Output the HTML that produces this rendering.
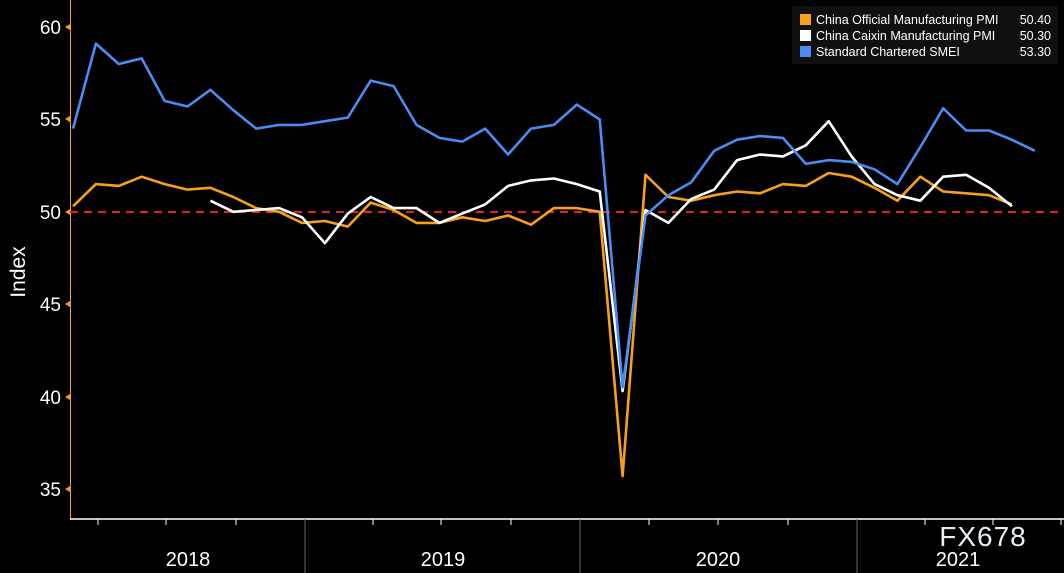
<!DOCTYPE html>
<html><head><meta charset="utf-8"><style>
html,body{margin:0;padding:0;background:#000;}
svg{display:block;font-family:"Liberation Sans","DejaVu Sans",sans-serif;}
</style></head><body>
<svg width="1064" height="573" viewBox="0 0 1064 573" xmlns="http://www.w3.org/2000/svg">
<rect width="1064" height="573" fill="#000"/>
<line x1="70.5" y1="0" x2="70.5" y2="519" stroke="#f7a11a" stroke-width="1"/>
<line x1="70" y1="519" x2="1064" y2="519" stroke="#fff" stroke-width="1.5"/>
<g stroke="#fff" stroke-width="1">
<line x1="98" y1="519" x2="98" y2="525"/><line x1="166" y1="519" x2="166" y2="525"/><line x1="236" y1="519" x2="236" y2="525"/>
<line x1="373" y1="519" x2="373" y2="525"/><line x1="441" y1="519" x2="441" y2="525"/><line x1="511" y1="519" x2="511" y2="525"/>
<line x1="649" y1="519" x2="649" y2="525"/><line x1="718" y1="519" x2="718" y2="525"/><line x1="788" y1="519" x2="788" y2="525"/>
<line x1="925" y1="519" x2="925" y2="525"/><line x1="993" y1="519" x2="993" y2="525"/><line x1="1061" y1="519" x2="1061" y2="525"/>
</g>
<g stroke="#666" stroke-width="1">
<line x1="305" y1="519" x2="305" y2="573"/><line x1="580" y1="519" x2="580" y2="573"/><line x1="857" y1="519" x2="857" y2="573"/>
</g>
<g fill="#fff" font-size="20" text-anchor="middle">
<text x="188" y="566">2018</text><text x="443" y="566">2019</text><text x="718" y="566">2020</text><text x="958" y="566">2021</text>
</g>
<text x="983" y="546" fill="#e8eef5" font-size="28" text-anchor="middle" letter-spacing="1">FX678</text>
<g fill="#fff" font-size="19" text-anchor="end">
<text x="61" y="34">60</text><text x="61" y="126">55</text><text x="61" y="219">50</text>
<text x="61" y="311">45</text><text x="61" y="404">40</text><text x="61" y="496">35</text>
</g>
<g fill="#f7a11a">
<polygon points="70,24 65,27 70,30"/><polygon points="70,116 65,119 70,122"/><polygon points="70,209 65,212 70,215"/>
<polygon points="70,301 65,304 70,307"/><polygon points="70,394 65,397 70,400"/><polygon points="70,486 65,489 70,492"/>
</g>
<text transform="translate(25,272) rotate(-90)" fill="#fff" font-size="21" text-anchor="middle">Index</text>
<line x1="70" y1="212" x2="1064" y2="212" stroke="#e8202a" stroke-width="2" stroke-dasharray="8,6"/>
<g fill="none" stroke-width="2.6" stroke-linejoin="round">
<polyline id="o" stroke="#f7a11a" points=""/>
<polyline id="w" stroke="#fff" points=""/>
<polyline id="b" stroke="#4a8cf2" points=""/>
</g>
<rect x="792" y="6" width="266" height="58" fill="#101010"/>
<rect x="800" y="14" width="11" height="11" fill="#f7a11a"/>
<rect x="800" y="30" width="11" height="11" fill="#fff"/>
<rect x="800" y="46" width="11" height="11" fill="#4a8cf2"/>
<g fill="#fff" font-size="12.5">
<text x="816" y="24">China Official Manufacturing PMI</text>
<text x="816" y="40">China Caixin Manufacturing PMI</text>
<text x="816" y="56">Standard Chartered SMEI</text>
</g>
<g fill="#fff" font-size="12.5" text-anchor="end">
<text x="1051" y="24">50.40</text><text x="1051" y="40">50.30</text><text x="1051" y="56">53.30</text>
</g>
</svg>
<script>
function pts(start,arr){return arr.map(function(v,i){return (73+(start+i)*22.9).toFixed(1)+','+(27+(60-v)*18.48).toFixed(1);}).join(' ');}
var o=[50.3,51.5,51.4,51.9,51.5,51.2,51.3,50.8,50.2,50.0,49.4,49.5,49.2,50.5,50.1,49.4,49.4,49.7,49.5,49.8,49.3,50.2,50.2,50.0,35.7,52.0,50.8,50.6,50.9,51.1,51.0,51.5,51.4,52.1,51.9,51.3,50.6,51.9,51.1,51.0,50.9,50.4];
var w=[50.6,50.0,50.1,50.2,49.7,48.3,49.9,50.8,50.2,50.2,49.4,49.9,50.4,51.4,51.7,51.8,51.5,51.1,40.3,50.1,49.4,50.7,51.2,52.8,53.1,53.0,53.6,54.9,53.0,51.5,50.9,50.6,51.9,52.0,51.3,50.3];
var b=[54.5,59.1,58.0,58.3,56.0,55.7,56.6,55.5,54.5,54.7,54.7,54.9,55.1,57.1,56.8,54.7,54.0,53.8,54.5,53.1,54.5,54.7,55.8,55.0,40.5,49.8,50.9,51.6,53.3,53.9,54.1,54.0,52.6,52.8,52.7,52.3,51.5,53.5,55.6,54.4,54.4,53.9,53.3];
document.getElementById('o').setAttribute('points',pts(0,o));
document.getElementById('w').setAttribute('points',pts(6,w));
document.getElementById('b').setAttribute('points',pts(0,b));
</script>
</body></html>
